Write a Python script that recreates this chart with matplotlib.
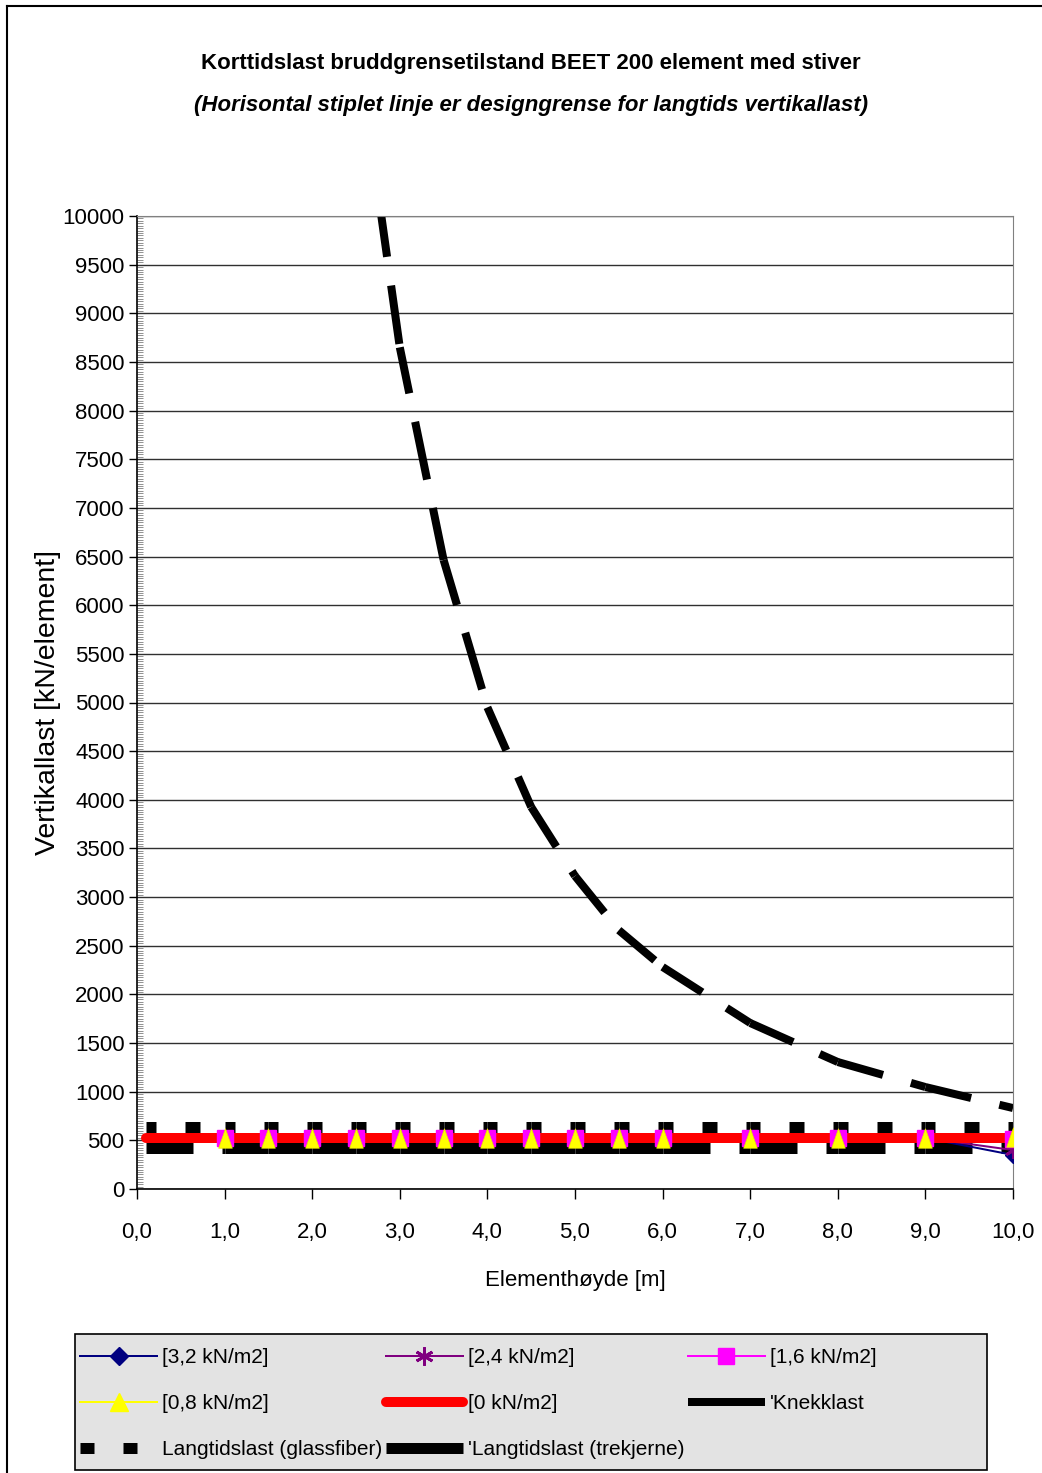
import matplotlib.pyplot as plt
from matplotlib import font_manager
from matplotlib.lines import Line2D
from matplotlib.patches import Rectangle
from matplotlib.ticker import MultipleLocator, FuncFormatter

installed = {f.name for f in font_manager.fontManager.ttflist}
narrow = 'Liberation Sans Narrow' if 'Liberation Sans Narrow' in installed else 'Liberation Sans'

plt.rcParams['font.family'] = [narrow, 'DejaVu Sans']
plt.rcParams['font.size'] = 16
plt.rcParams['lines.scale_dashes'] = False

PX = 0.72  # points per pixel at dpi 100

# x-verdier (elementhøyde, m)
hoyde = [0.1, 1.0, 1.5, 2.0, 2.5, 3.0, 3.5, 4.0, 4.5, 5.0, 5.5, 6.0, 7.0, 8.0, 9.0, 10.0]
hoyde_last = [1.0, 1.5, 2.0, 2.5, 3.0, 3.5, 4.0, 4.5, 5.0, 5.5, 6.0, 7.0, 8.0, 9.0, 10.0]
hoyde_knekk = [2.5, 3.0, 3.5, 4.0, 4.5, 5.0, 5.5, 6.0, 7.0, 8.0, 9.0, 10.0]

# korttidslast for ulike vindlaster (kN/element)
last_32 = [525, 525, 525, 525, 525, 525, 525, 525, 525, 525, 525, 525, 525, 525, 350]
last_24 = [525, 525, 525, 525, 525, 525, 525, 525, 525, 525, 525, 525, 525, 525, 400]
last_16 = [525, 525, 525, 525, 525, 525, 525, 525, 525, 525, 525, 525, 525, 525, 515]
last_08 = [525, 525, 525, 525, 525, 525, 525, 525, 525, 525, 525, 525, 525, 525, 530]
last_00 = [525, 525, 525, 525, 525, 525, 525, 525, 525, 525, 525, 525, 525, 525, 525, 525]

knekklast = [11850, 8650, 6465, 4950, 3926, 3217, 2660, 2282, 1706, 1305, 1048, 832]
langtid_glass = [640, 640, 640, 640, 640, 640, 640, 640, 640, 640, 640, 640, 640, 640, 640, 640]
langtid_tre = [420, 420, 420, 420, 420, 420, 420, 420, 420, 420, 420, 420, 420, 420, 420, 420]

labels = ['[3,2 kN/m2]', '[2,4 kN/m2]', '[1,6 kN/m2]', '[0,8 kN/m2]', '[0 kN/m2]',
          "'Knekklast", 'Langtidslast (glassfiber)', "'Langtidslast (trekjerne)"]


def stykkvis(ax, x, y, on, off, start, lw, color, z):
    # Excel starter strekmønsteret på nytt for hvert linjestykke
    for i in range(len(x) - 1):
        ax.plot(x[i:i + 2], y[i:i + 2], color=color, lw=lw * PX,
                linestyle=(start * PX, (on * PX, off * PX)),
                dash_capstyle='butt', solid_capstyle='butt', zorder=z)


fig = plt.figure(figsize=(10.42, 14.73), dpi=100)
ax = fig.add_axes([137 / 1042, 1 - 1189 / 1473, 876 / 1042, 973 / 1473])

stykkvis(ax, hoyde, langtid_tre, 59, 29, 12, 11, 'black', 2)
stykkvis(ax, hoyde, langtid_glass, 15, 29, 5, 11, 'black', 2)
stykkvis(ax, hoyde_knekk, knekklast, 59, 29, 12, 8, 'black', 2)

ax.plot(hoyde_last, last_32, color='#000080', lw=2 * PX, zorder=3)
ax.plot(hoyde_last, last_24, color='#800080', lw=2 * PX, zorder=3)
ax.plot(hoyde_last, last_16, color='#FF00FF', lw=2 * PX, zorder=3)
ax.plot(hoyde_last, last_08, color='#FFFF00', lw=2 * PX, zorder=3)
ax.plot(hoyde, last_00, color='#FF0000', lw=10 * PX, solid_capstyle='round', zorder=3.5)

tri = [(0, 1), (-0.7, -1), (0.7, -1), (0, 1)]
ax.plot(hoyde_last, last_32, ls='none', marker='D', ms=8, color='#000080', zorder=4)
ax.plot(hoyde_last, last_24, ls='none', marker=(6, 2, 0), ms=12, mew=2, color='#800080', zorder=4.1)
ax.plot(hoyde_last, last_16, ls='none', marker='s', ms=12, color='#FF00FF', zorder=4.2)
ax.plot(hoyde_last, last_08, ls='none', marker=tri, ms=14, color='#FFFF00', mec='#E8E800',
        mew=0.5, zorder=4.3)

ax.set_xlim(0, 10)
ax.set_ylim(0, 10000)
ax.xaxis.set_major_locator(MultipleLocator(1))
ax.xaxis.set_major_formatter(FuncFormatter(lambda v, p: f'{v:.1f}'.replace('.', ',')))
ax.yaxis.set_major_locator(MultipleLocator(500))
ax.yaxis.set_minor_locator(MultipleLocator(25))
ax.tick_params(axis='x', direction='out', length=7, width=1, pad=17, labelsize=16)
ax.tick_params(axis='y', which='major', direction='out', length=6, width=1, pad=3, labelsize=16)
ax.tick_params(axis='y', which='minor', direction='in', length=4, width=0.6, color='#808080')
ax.grid(axis='y', which='major', color='#303030', lw=1)
ax.set_axisbelow(True)
for side in ['top', 'right']:
    ax.spines[side].set_color('#808080')
ax.spines['left'].set_linewidth(1.2)
ax.spines['bottom'].set_linewidth(1.2)

ax.set_xlabel('Elementhøyde [m]', fontsize=16)
ax.xaxis.set_label_coords(0.5, -0.094)
ax.xaxis.label.set_va('center')
ax.set_ylabel('Vertikallast [kN/element]', fontsize=20.5, family='Liberation Sans')
ax.yaxis.set_label_coords(-0.1016, 0.5)
ax.yaxis.label.set_va('center')

fig.text(531 / 1042, 1 - 64 / 1473, 'Korttidslast bruddgrensetilstand BEET 200 element med stiver',
         ha='center', va='center', fontsize=16, fontweight='bold')
fig.text(531 / 1042, 1 - 106 / 1473,
         '(Horisontal stiplet linje er designgrense for langtids vertikallast)',
         ha='center', va='center', fontsize=16, fontweight='bold', style='italic')

# ramme rundt figuren
fig.add_artist(Line2D([7 / 1042, 7 / 1042], [0, 1 - 6 / 1473], color='black', lw=1.5))
fig.add_artist(Line2D([7 / 1042, 1], [1 - 6 / 1473, 1 - 6 / 1473], color='black', lw=1.5))

# grå tegnforklaringsboks
fig.add_artist(Rectangle((75 / 1042, 1 - 1470 / 1473), 912 / 1042, 136 / 1473,
                         facecolor='#E3E3E3', edgecolor='black', lw=1.2))

handles = [
    Line2D([], [], color='#000080', lw=2 * PX, marker='D', ms=9),
    Line2D([], [], color='#800080', lw=2 * PX, marker=(6, 2, 0), ms=13, mew=2),
    Line2D([], [], color='#FF00FF', lw=2 * PX, marker='s', ms=11),
    Line2D([], [], color='#FFFF00', lw=2 * PX, marker='^', ms=13),
    Line2D([], [], color='#FF0000', lw=10 * PX, solid_capstyle='round'),
    Line2D([], [], color='black', lw=8 * PX, solid_capstyle='butt'),
    Line2D([], [], color='black', lw=11 * PX, linestyle=(0, (14 * PX, 29 * PX)), dash_capstyle='butt'),
    Line2D([], [], color='black', lw=11 * PX, solid_capstyle='butt'),
]
order = [0, 3, 6, 1, 4, 7, 2, 5]
leg = fig.legend([handles[i] for i in order], [labels[i] for i in order],
                 loc='upper left', bbox_to_anchor=(80 / 1042, 1 - 1348 / 1473),
                 ncol=3, fontsize=15, frameon=False,
                 handlelength=3.7, handletextpad=0.25, labelspacing=1.3,
                 borderpad=0, borderaxespad=0, columnspacing=0.15)
leg.set_zorder(5)

fig.savefig('out.png', dpi=100)
